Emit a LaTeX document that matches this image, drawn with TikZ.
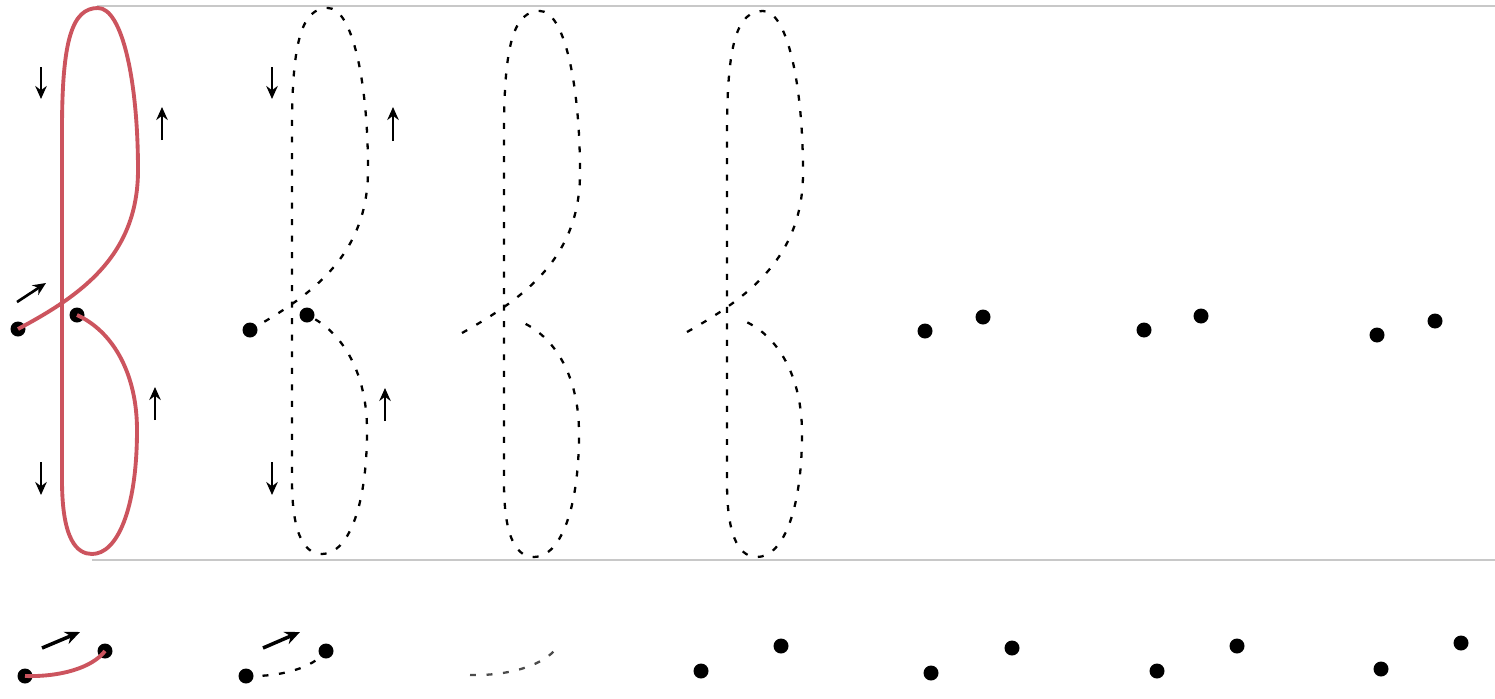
\documentclass[tikz,border=0pt]{standalone}
\usetikzlibrary{arrows.meta}
\definecolor{loopred}{RGB}{204,84,94}
\definecolor{rulegray}{RGB}{200,200,200}
\begin{document}
\begin{tikzpicture}[x=0.1mm,y=-0.1mm,
  dot/.style={circle,fill=black,inner sep=0pt,minimum size=1.5mm},
  redpath/.style={draw=loopred,line width=1.1pt},
  dashpath/.style={draw=black,line width=0.65pt,dash pattern=on 1.7pt off 3pt},
  marker/.style={-{Stealth[length=1.3mm,width=1.15mm]},line width=0.75pt},
  bigmarker/.style={-{Stealth[length=1.5mm,width=1.3mm]},line width=1pt},
  rulestyle/.style={draw=rulegray,line width=0.6pt}]
\useasboundingbox (0,0) rectangle (1495,698);
% horizontal rules
\coordinate (t0) at (97,6);  \coordinate (t1) at (1495,6);
\coordinate (u0) at (92,560); \coordinate (u1) at (1495,560);
\draw[rulestyle] (t0) -- (t1);
\draw[rulestyle] (u0) -- (u1);
% the loop path (relative to the vertical line)
\def\looppath#1#2{(#1) .. controls (20,295) and (76,255) .. (76,170)
  .. controls (76,80) and (60,8) .. (36,8)
  .. controls (10,8) and (0,40) .. (0,130) -- (0,480)
  .. controls (0,540) and (15,554) .. (30,554)
  .. controls (55,554) and (75,510) .. (75,430)
  .. controls (75,375) and (52,332) .. (#2)}
% panel 1
\begin{scope}[shift={(62,0)}]
  \node[dot] (a1) at (-44,329) {};
  \node[dot] (b1) at (15,315) {};
  \draw[redpath] \looppath{a1.center}{b1.center};
  \draw[marker] (-21,67) -- (-21,99);
  \draw[marker] (100,140) -- (100,107);
  \draw[marker] (93,420) -- (93,387);
  \draw[marker] (-21,462) -- (-21,495);
  \draw[marker] (-45,302) -- (-16,283);
\end{scope}
% panel 2
\begin{scope}[shift={(292,0)}]
  \node[dot] (a2) at (-42,330) {};
  \node[dot] (b2) at (15,315) {};
  \draw[dashpath] \looppath{a2.center}{b2.center};
  \draw[marker] (-20,67) -- (-20,99);
  \draw[marker] (101,141) -- (101,107);
  \draw[marker] (93,421) -- (93,388);
  \draw[marker] (-20,462) -- (-20,495);
\end{scope}
% panel 3
\begin{scope}[shift={(504,3)}]
  \coordinate (a3) at (-42,330);
  \coordinate (b3) at (13,317);
  \draw[dashpath] \looppath{a3}{b3};
\end{scope}
% panel 4
\begin{scope}[shift={(727,3)}]
  \coordinate (a4) at (-40,329);
  \coordinate (b4) at (15,317);
  \draw[dashpath] \looppath{a4}{b4};
\end{scope}
% middle-row dots
\node[dot] (m5a) at (925,331) {};
\node[dot] (m5b) at (983,317) {};
\node[dot] (m6a) at (1144,330) {};
\node[dot] (m6b) at (1201,316) {};
\node[dot] (m7a) at (1377,335) {};
\node[dot] (m7b) at (1435,321) {};
% bottom row
\node[dot] (p1a) at (25,676) {};
\node[dot] (p1b) at (105,651) {};
\draw[redpath] (p1a.center) .. controls (60,677) and (92,668) .. (p1b.center);
\draw[bigmarker] (42,648) -- (80,632);
\node[dot] (p2a) at (246,676) {};
\node[dot] (p2b) at (326,651) {};
\draw[dashpath] (p2a.center) .. controls (281,677) and (313,668) .. (p2b.center);
\draw[bigmarker] (263,648) -- (300,632);
\coordinate (p3a) at (470,675);
\coordinate (p3b) at (555,650);
\draw[dashpath,black!70] (p3a) .. controls (505,676) and (540,667) .. (p3b);
\node[dot] (p4a) at (701,671) {};
\node[dot] (p4b) at (781,646) {};
\node[dot] (p5a) at (931,673) {};
\node[dot] (p5b) at (1012,648) {};
\node[dot] (p6a) at (1157,671) {};
\node[dot] (p6b) at (1237,646) {};
\node[dot] (p7a) at (1381,669) {};
\node[dot] (p7b) at (1461,643) {};
\end{tikzpicture}
\end{document}
